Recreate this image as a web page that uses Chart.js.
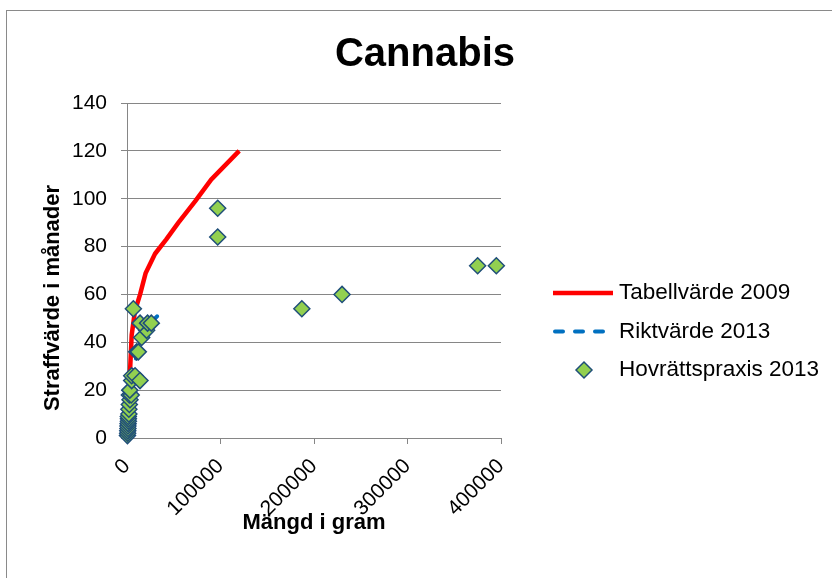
<!DOCTYPE html>
<html>
<head>
<meta charset="utf-8">
<script src="https://cdn.jsdelivr.net/npm/chart.js@4/dist/chart.umd.min.js"></script>
<style>
  html, body { margin: 0; padding: 0; background: #fff; overflow: hidden; }
  #wrap { position: relative; width: 832px; height: 578px; overflow: hidden; }
  #frame { position: absolute; left: 6px; top: 10px; width: 840px; height: 580px; border: 1px solid #8a8a8a; pointer-events: none; }
  canvas { position: absolute; left: 0; top: 0; }
</style>
</head>
<body>
<div id="wrap">
  <canvas id="c" width="850" height="578"></canvas>
  <div id="frame"></div>
</div>
<script>
/* Cannabis – straffvärde mot mängd */

var tabellGram    = [0, 1000, 2500, 3500, 5000, 8500, 14000, 20000, 30000, 42000, 55000, 73000, 90000, 120000];
var tabellManader = [0, 10, 22, 30, 43, 53, 60, 69, 77, 83, 90, 99, 108, 120];

var riktGram    = [0, 2000, 5000, 10000, 20000, 30000, 40000];
var riktManader = [0, 12, 24, 34, 45, 50, 54];

var praxisGram    = [500, 700, 800, 1000, 1000, 1200, 1500, 1500, 1400, 2000, 2000, 2500, 3200, 2500, 4500, 3000,
                     5000, 5000, 8600, 13900, 10400, 12100, 15700, 21000, 14000, 22000, 26000, 6800,
                     97000, 97000, 187000, 230000, 375000, 395000];
var praxisManader = [1, 2, 3, 4, 5, 6, 7, 8, 9, 10, 12, 14, 16, 18, 18, 20,
                     24, 26, 26, 24, 36, 36, 42, 45, 48, 48, 48, 54,
                     96, 84, 54, 60, 72, 72];

var xTickValues = [0, 100000, 200000, 300000, 400000];
var yTickValues = [0, 20, 40, 60, 80, 100, 120, 140];

var GRID = '#868686';
var FONT = 'Liberation Sans, Arial, sans-serif';

function pts(xs, ys) {
  return xs.map(function (x, i) { return { x: x, y: ys[i] }; });
}

/* legend drawn at Excel-like spot, reading styles from the datasets */
var sideLegend = {
  id: 'sideLegend',
  afterDraw: function (chart) {
    var ctx = chart.ctx;
    chart.data.datasets.forEach(function (ds, i) {
      var y = 293 + i * 38.5;
      ctx.save();
      if (ds.showLine) {
        ctx.strokeStyle = ds.borderColor;
        ctx.lineWidth = ds.borderWidth;
        ctx.setLineDash(ds.borderDash || []);
        ctx.lineCap = ds.borderCapStyle || 'butt';
        ctx.beginPath();
        ctx.moveTo(ds.borderDash ? 555 : 553, y);
        ctx.lineTo(ds.borderDash ? 607 : 613, y);
        ctx.stroke();
      } else {
        ctx.fillStyle = ds.backgroundColor;
        ctx.strokeStyle = ds.borderColor;
        ctx.lineWidth = ds.borderWidth;
        Chart.helpers.drawPoint(ctx, { pointStyle: 'rectRot', radius: 8, borderWidth: ds.borderWidth, rotation: 0 }, 584, y);
      }
      ctx.setLineDash([]);
      ctx.fillStyle = '#000';
      ctx.font = '22.5px ' + FONT;
      ctx.textBaseline = 'middle';
      ctx.textAlign = 'left';
      ctx.fillText(ds.label, 619, y);
      ctx.restore();
    });
  }
};

Chart.defaults.font.family = FONT;
Chart.defaults.color = '#000';

new Chart(document.getElementById('c'), {
  type: 'scatter',
  data: {
    datasets: [
      { label: 'Tabellvärde 2009', data: pts(tabellGram, tabellManader), showLine: true, order: 2,
        borderColor: '#ff0000', borderWidth: 4.5, pointRadius: 0, fill: false, borderJoinStyle: 'round' },
      { label: 'Riktvärde 2013', data: pts(riktGram, riktManader), showLine: true, order: 1,
        borderColor: '#0070c0', borderWidth: 4, borderDash: [8, 12], borderCapStyle: 'round', pointRadius: 0, fill: false },
      { label: 'Hovrättspraxis 2013', data: pts(praxisGram, praxisManader), order: 0, clip: false,
        pointStyle: 'rectRot', pointRadius: 8, backgroundColor: '#92d050', borderColor: '#1f4e79', borderWidth: 1.5 }
    ]
  },
  options: {
    responsive: false,
    animation: false,
    events: [],
    layout: { padding: 0 },
    plugins: {
      legend: { display: false },
      tooltip: { enabled: false },
      title: { display: true, text: 'Cannabis', color: '#000',
        font: { size: 40, weight: 'bold', family: FONT }, padding: { top: 31, bottom: 24 } }
    },
    scales: {
      x: {
        type: 'linear', min: 0, max: 400000,
        afterBuildTicks: function (s) { s.ticks = xTickValues.map(function (v) { return { value: v }; }); },
        afterFit: function (s) { s.height = 140; s.paddingLeft = 0; s.paddingRight = 0; },
        grid: { drawOnChartArea: false, drawTicks: true, tickLength: 6, color: GRID },
        border: { color: GRID, width: 1 },
        ticks: { minRotation: 45, maxRotation: 45, padding: 10, font: { size: 21 }, color: '#000',
          callback: function (v) { return String(v); } },
        title: { display: true, text: 'Mängd i gram', font: { size: 22, weight: 'bold' }, color: '#000',
          padding: { top: 0, bottom: 42 } }
      },
      y: {
        type: 'linear', min: 0, max: 140,
        afterBuildTicks: function (s) { s.ticks = yTickValues.map(function (v) { return { value: v }; }); },
        afterFit: function (s) { s.width = 127; s.paddingTop = 0; s.paddingBottom = 0; },
        grid: { color: GRID, tickLength: 6 },
        border: { color: GRID, width: 1 },
        ticks: { padding: 14, font: { size: 21 }, color: '#000' },
        // trailing spaces push the centred title down, as in the original
        title: { display: true, text: 'Straffvärde i månader         ', font: { size: 22, weight: 'bold' }, color: '#000',
          padding: { top: 40, bottom: 0 } }
      },
      side: {
        type: 'linear', position: 'right', display: true,
        afterFit: function (s) { s.width = 349; },
        grid: { display: false }, border: { display: false }, ticks: { display: false }
      }
    }
  },
  plugins: [sideLegend]
});
</script>
</body>
</html>
